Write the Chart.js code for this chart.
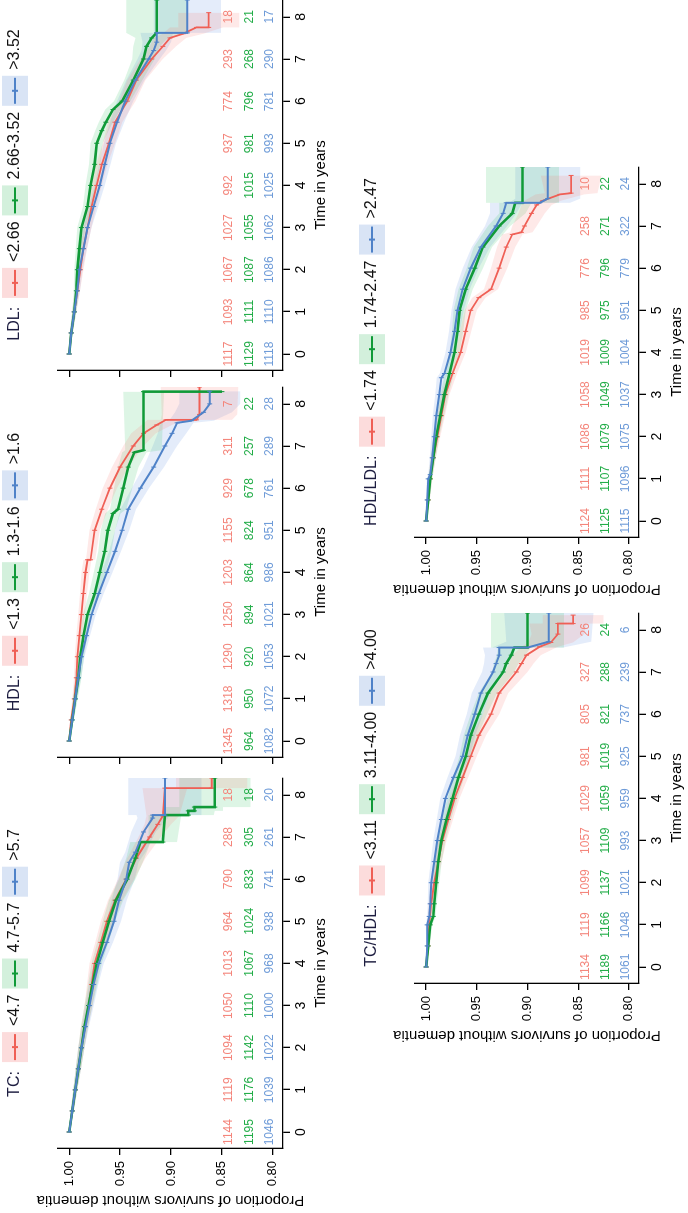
<!DOCTYPE html>
<html lang="en">
<head>
<meta charset="UTF-8">
<title>Dementia-free survival by lipid level</title>
<script src="https://cdn.jsdelivr.net/npm/chart.js"></script>
<style>
    html, body { margin: 0; padding: 0; background: #fff; overflow: hidden; }
    body { width: 688px; height: 1213px; position: relative; }
    /* the figure is laid out landscape and turned a quarter turn to the left */
    #fig {
        position: absolute; left: 0; top: 0;
        width: 1213px; height: 688px;
        transform-origin: 0 0;
        transform: translateY(1213px) rotate(-90deg);
        overflow: hidden;
    }
    #fig canvas { position: absolute; }
</style>
</head>
<body>
<div id="fig">
    <canvas id="cTC" width="440" height="333" style="left:0px;top:0px"></canvas>
    <canvas id="cHDL" width="440" height="333" style="left:391px;top:0px"></canvas>
    <canvas id="cLDL" width="440" height="333" style="left:778px;top:0px"></canvas>
    <canvas id="cTCHDL" width="440" height="332" style="left:165px;top:357px"></canvas>
    <canvas id="cHDLLDL" width="440" height="332" style="left:611px;top:357px"></canvas>
</div>
<script>
// ticks
const timeTicks = [0, 1, 2, 3, 4, 5, 6, 7, 8];
const propTicks = [0.80, 0.85, 0.90, 0.95, 1.00];

// legend groups
const tcGroups = ['<4.7', '4.7-5.7', '>5.7'];
const hdlGroups = ['<1.3', '1.3-1.6', '>1.6'];
const ldlGroups = ['<2.66', '2.66-3.52', '>3.52'];
const tchdlGroups = ['<3.11', '3.11-4.00', '>4.00'];
const hdlldlGroups = ['<1.74', '1.74-2.47', '>2.47'];

// numbers at risk at years 0..8 (rows: low, mid, high)
const tcRisk = [[1144, 1119, 1094, 1050, 1013, 964, 790, 288, 18],
                [1195, 1176, 1142, 1110, 1067, 1024, 833, 305, 18],
                [1046, 1039, 1022, 1000, 968, 938, 741, 261, 20]];
const hdlRisk = [[1345, 1318, 1290, 1250, 1203, 1155, 929, 311, 7],
                 [964, 950, 920, 894, 864, 824, 678, 257, 22],
                 [1082, 1072, 1053, 1021, 986, 951, 761, 289, 28]];
const ldlRisk = [[1117, 1093, 1067, 1027, 992, 937, 774, 293, 18],
                 [1129, 1111, 1087, 1055, 1015, 981, 796, 268, 21],
                 [1118, 1110, 1086, 1062, 1025, 993, 781, 290, 17]];
const tchdlRisk = [[1134, 1119, 1099, 1057, 1029, 981, 805, 327, 26],
                   [1189, 1166, 1137, 1109, 1059, 1019, 821, 288, 24],
                   [1061, 1048, 1021, 993, 959, 925, 737, 239, 6]];
const hdlldlRisk = [[1124, 1111, 1086, 1058, 1019, 985, 776, 258, 10],
                    [1125, 1107, 1079, 1049, 1009, 975, 796, 271, 22],
                    [1115, 1096, 1075, 1037, 1004, 951, 779, 322, 24]];

// Kaplan-Meier curves: [years, proportion, CI half width]
const tcLow = [[0,1,0],[0.5,0.997,0.0015],[1,0.994,0.002],[1.5,0.991,0.0025],[2,0.988,0.003],[2.5,0.985,0.0035],[3,0.981,0.004],[3.5,0.978,0.0045],[4,0.975,0.005],[4.5,0.969,0.0055],[5,0.963,0.006],[5.5,0.955,0.007],[6,0.944,0.008],[6.5,0.934,0.009],[7,0.921,0.011],[7.3,0.913,0.013],[7.5,0.908,0.016],[8.16,0.906,0.022],[8.16,0.860,0.035],[8.4,0.860,0.035]];
const tcMid = [[0,1,0],[0.5,0.997,0.0015],[1,0.994,0.002],[1.5,0.991,0.0025],[2,0.988,0.003],[2.5,0.985,0.0035],[3,0.981,0.004],[3.5,0.977,0.0045],[4,0.973,0.005],[4.5,0.967,0.0055],[5,0.961,0.006],[5.5,0.954,0.007],[6,0.943,0.008],[6.5,0.935,0.009],[6.88,0.930,0.01],[6.88,0.908,0.014],[7.52,0.906,0.016],[7.52,0.883,0.025],[7.62,0.883,0.026],[7.62,0.877,0.028],[7.71,0.877,0.028],[7.71,0.857,0.035],[8.4,0.857,0.035]];
const tcHigh = [[0,1,0],[0.5,0.997,0.0015],[1,0.994,0.002],[1.5,0.991,0.0025],[2,0.988,0.003],[2.5,0.984,0.0035],[3,0.980,0.004],[3.5,0.976,0.0045],[4,0.971,0.005],[4.5,0.963,0.006],[5,0.956,0.007],[5.5,0.951,0.0075],[6,0.944,0.0085],[6.4,0.941,0.009],[6.64,0.935,0.01],[7.12,0.927,0.012],[7.45,0.918,0.015],[7.52,0.918,0.016],[7.52,0.906,0.036],[8.4,0.906,0.036]];

const hdlLow = [[0,1,0],[0.5,0.998,0.0012],[1,0.995,0.002],[1.5,0.993,0.0022],[2,0.992,0.0025],[2.5,0.990,0.003],[3,0.988,0.0032],[3.5,0.986,0.0035],[4,0.984,0.004],[4.3,0.982,0.004],[4.3,0.979,0.0045],[5,0.975,0.005],[5.5,0.968,0.006],[6,0.960,0.007],[6.5,0.950,0.008],[7,0.937,0.01],[7.3,0.927,0.012],[7.5,0.914,0.015],[7.62,0.905,0.018],[7.62,0.875,0.035],[7.75,0.872,0.037],[8.4,0.872,0.038]];
const hdlMid = [[0,1,0],[0.5,0.997,0.0015],[1,0.994,0.0025],[1.5,0.991,0.003],[2,0.989,0.0035],[2.5,0.986,0.004],[3,0.982,0.0045],[3.5,0.975,0.0055],[4,0.970,0.006],[4.5,0.965,0.0065],[5,0.962,0.007],[5.4,0.957,0.0075],[5.5,0.952,0.008],[6,0.947,0.009],[6.5,0.942,0.01],[6.85,0.936,0.012],[6.9,0.927,0.018],[8.29,0.927,0.02],[8.29,0.850,0.04]];
const hdlHigh = [[0,1,0],[0.5,0.997,0.0015],[1,0.994,0.002],[1.5,0.991,0.0025],[2,0.988,0.003],[2.5,0.983,0.0035],[3,0.978,0.004],[3.5,0.971,0.005],[4,0.963,0.0055],[4.5,0.955,0.006],[5,0.948,0.007],[5.5,0.942,0.0075],[6,0.930,0.0085],[6.5,0.917,0.01],[7,0.906,0.012],[7.3,0.899,0.014],[7.55,0.894,0.016],[7.6,0.880,0.022],[7.8,0.868,0.028],[8,0.862,0.03],[8.3,0.862,0.03]];

const ldlLow = [[0,1,0],[0.5,0.998,0.0015],[1,0.995,0.002],[1.5,0.992,0.0025],[2,0.989,0.003],[2.5,0.986,0.0035],[3,0.982,0.004],[3.5,0.978,0.0045],[4,0.973,0.005],[4.5,0.968,0.0055],[5,0.961,0.006],[5.5,0.955,0.007],[6,0.943,0.008],[6.5,0.934,0.009],[7,0.919,0.011],[7.3,0.908,0.013],[7.5,0.901,0.016],[7.6,0.888,0.02],[7.75,0.875,0.026],[7.75,0.863,0.03],[8.1,0.863,0.03]];
const ldlMid = [[0,1,0],[0.5,0.998,0.0015],[1,0.995,0.002],[1.5,0.993,0.0025],[2,0.992,0.003],[2.5,0.990,0.0035],[3,0.988,0.004],[3.5,0.982,0.0045],[4,0.979,0.005],[4.5,0.975,0.0055],[5,0.973,0.006],[5.3,0.968,0.0065],[5.5,0.964,0.007],[5.8,0.957,0.0075],[6,0.948,0.008],[6.5,0.937,0.009],[7,0.927,0.011],[7.3,0.924,0.013],[7.5,0.919,0.016],[7.62,0.914,0.03],[8.4,0.914,0.03]];
const ldlHigh = [[0,1,0],[0.5,0.998,0.0015],[1,0.995,0.002],[1.5,0.992,0.0025],[2,0.990,0.003],[2.5,0.986,0.0035],[3,0.982,0.004],[3.5,0.976,0.0045],[4,0.970,0.005],[4.5,0.965,0.0055],[5,0.960,0.006],[5.5,0.953,0.007],[6,0.945,0.008],[6.5,0.935,0.009],[7,0.922,0.011],[7.2,0.917,0.012],[7.4,0.914,0.014],[7.62,0.914,0.016],[7.62,0.884,0.033],[8.4,0.884,0.033]];

const tchdlLow = [[0,1,0],[0.5,0.998,0.0015],[1,0.997,0.002],[1.5,0.995,0.0025],[2,0.992,0.003],[2.5,0.988,0.0035],[3,0.984,0.004],[3.5,0.978,0.0045],[4,0.972,0.005],[4.5,0.964,0.0055],[5,0.956,0.006],[5.5,0.948,0.007],[6,0.936,0.008],[6.5,0.928,0.009],[7,0.911,0.011],[7.2,0.906,0.012],[7.4,0.901,0.014],[7.6,0.888,0.018],[7.7,0.877,0.022],[7.9,0.870,0.026],[8.15,0.870,0.028],[8.15,0.855,0.03],[8.35,0.855,0.03]];
const tchdlMid = [[0,1,0],[0.5,0.998,0.0015],[1,0.996,0.002],[1.2,0.993,0.0022],[1.5,0.992,0.0025],[2,0.990,0.003],[2.5,0.988,0.0035],[3,0.985,0.004],[3.5,0.980,0.0045],[4,0.974,0.005],[4.5,0.968,0.0055],[5,0.961,0.006],[5.5,0.956,0.007],[6,0.948,0.008],[6.5,0.939,0.009],[7,0.924,0.011],[7.2,0.921,0.012],[7.4,0.916,0.014],[7.58,0.913,0.016],[7.58,0.900,0.036],[8.4,0.900,0.036]];
const tchdlHigh = [[0,1,0],[0.5,0.999,0.001],[1,0.999,0.0015],[1.2,0.997,0.002],[1.5,0.996,0.0025],[2,0.995,0.003],[2.5,0.992,0.0035],[3,0.989,0.004],[3.5,0.985,0.0045],[4,0.981,0.005],[4.5,0.973,0.006],[5,0.964,0.007],[5.5,0.959,0.0075],[6,0.952,0.008],[6.5,0.946,0.009],[7,0.934,0.011],[7.2,0.931,0.012],[7.4,0.928,0.014],[7.58,0.928,0.016],[7.58,0.900,0.035],[7.72,0.879,0.042],[8.4,0.879,0.044]];

const hdlldlLow = [[0,1,0],[0.5,0.998,0.0015],[1,0.996,0.002],[1.5,0.993,0.0025],[2,0.989,0.003],[2.5,0.985,0.0035],[3,0.981,0.004],[3.5,0.974,0.0045],[4,0.966,0.005],[4.5,0.961,0.0055],[5,0.956,0.006],[5.3,0.948,0.0065],[5.5,0.936,0.007],[6,0.928,0.008],[6.5,0.921,0.009],[6.8,0.915,0.01],[6.85,0.906,0.011],[7,0.903,0.012],[7.3,0.896,0.013],[7.5,0.891,0.015],[7.6,0.885,0.018],[7.75,0.868,0.024],[7.78,0.857,0.026],[8.2,0.857,0.03]];
const hdlldlMid = [[0,1,0],[0.5,0.998,0.0015],[1,0.996,0.002],[1.5,0.993,0.0025],[2,0.990,0.003],[2.5,0.986,0.0035],[3,0.982,0.004],[3.5,0.977,0.0045],[4,0.972,0.005],[4.5,0.969,0.0055],[5,0.967,0.006],[5.5,0.961,0.007],[6,0.952,0.008],[6.5,0.944,0.009],[7,0.928,0.011],[7.3,0.915,0.013],[7.55,0.912,0.016],[7.55,0.905,0.036],[8.4,0.905,0.036]];
const hdlldlHigh = [[0,1,0],[0.5,0.999,0.001],[1,0.998,0.0015],[1.1,0.996,0.002],[1.5,0.994,0.0025],[2,0.992,0.003],[2.5,0.990,0.0035],[3,0.987,0.004],[3.4,0.985,0.0045],[3.5,0.982,0.0045],[4,0.976,0.005],[4.5,0.972,0.0055],[5,0.969,0.006],[5.5,0.964,0.007],[6,0.956,0.008],[6.5,0.946,0.009],[7,0.931,0.011],[7.3,0.924,0.013],[7.55,0.921,0.016],[7.55,0.888,0.03],[7.65,0.880,0.032],[8.4,0.880,0.032]];

const FONT = "'Liberation Sans', Arial, sans-serif";
const lineColors = ['#ef5f55', '#109a38', '#4f82c8'];
const lineWidths = [1.8, 2.6, 2.0];
const bandColors = ['rgba(246,120,110,0.16)', 'rgba(30,185,80,0.15)', 'rgba(95,145,225,0.17)'];
const keyColors = ['#fcdcdc', '#d3f0dc', '#d9e4f5'];
const riskColors = ['#f4857b', '#22ad48', '#6e9bd8'];

// legend row drawn above each plot: "TC:  [key] <4.7  [key] 4.7-5.7 ..."
const kmLegend = {
    id: 'kmLegend',
    afterDraw(chart, args, opts) {
        const ctx = chart.ctx, area = chart.chartArea;
        const boxW = 30, boxH = 26, gap = 6, titleGap = 9;
        ctx.save();
        ctx.font = '16px ' + FONT;
        ctx.textBaseline = 'middle';
        let total = ctx.measureText(opts.title).width + titleGap;
        opts.labels.forEach((l, i) => {
            total += boxW + gap + ctx.measureText(l).width + (i < opts.labels.length - 1 ? gap : 0);
        });
        let x = (area.left + area.right) / 2 - total / 2;
        const cy = area.top - 43;
        ctx.fillStyle = '#1d1d40';
        ctx.fillText(opts.title, x, cy);
        x += ctx.measureText(opts.title).width + titleGap;
        opts.labels.forEach((l, i) => {
            ctx.fillStyle = keyColors[i];
            ctx.fillRect(x, cy - boxH / 2, boxW, boxH);
            ctx.strokeStyle = lineColors[i];
            ctx.lineWidth = 2;
            ctx.beginPath();
            ctx.moveTo(x + 2, cy); ctx.lineTo(x + boxW - 2, cy);
            ctx.moveTo(x + boxW / 2, cy - 3); ctx.lineTo(x + boxW / 2, cy + 3);
            ctx.stroke();
            x += boxW + gap;
            ctx.fillStyle = '#111';
            ctx.fillText(l, x, cy);
            x += ctx.measureText(l).width + gap;
        });
        ctx.restore();
    }
};

// numbers at risk printed inside the plot under the curves
const kmRisk = {
    id: 'kmRisk',
    afterDatasetsDraw(chart, args, opts) {
        const ctx = chart.ctx, xs = chart.scales.x, ys = chart.scales.y;
        const levels = [0.843, 0.823, 0.803];
        ctx.save();
        ctx.font = '12px ' + FONT;
        ctx.textAlign = 'center';
        ctx.textBaseline = 'middle';
        opts.rows.forEach((row, i) => {
            ctx.fillStyle = riskColors[i];
            row.forEach((n, k) => {
                ctx.fillText(String(n), xs.getPixelForValue(timeTicks[k]), ys.getPixelForValue(levels[i]));
            });
        });
        ctx.restore();
    }
};

function makePanel(id, title, groups, curves, risk, showY) {
    const datasets = [];
    curves.forEach((c, i) => {
        datasets.push({
            data: c.map(p => ({x: p[0], y: p[1] - p[2]})),
            borderWidth: 0, pointRadius: 0, fill: false, order: 10
        });
        datasets.push({
            data: c.map(p => ({x: p[0], y: p[1] + p[2]})),
            borderWidth: 0, pointRadius: 0, fill: '-1',
            backgroundColor: bandColors[i], order: 10
        });
    });
    curves.forEach((c, i) => {
        datasets.push({
            data: c.map(p => ({x: p[0], y: p[1]})),
            borderColor: lineColors[i],
            borderWidth: lineWidths[i],
            tension: 0,
            fill: false,
            pointStyle: 'line',
            rotation: 90,
            pointRadius: 2.5,
            pointBorderWidth: 1,
            pointBorderColor: lineColors[i],
            order: 3 - i
        });
    });

    new Chart(document.getElementById(id), {
        type: 'line',
        data: {datasets: datasets},
        plugins: [kmLegend, kmRisk],
        options: {
            responsive: false,
            animation: false,
            devicePixelRatio: 1,
            layout: {padding: {top: 58, right: 5, left: 0, bottom: 0}},
            plugins: {
                legend: {display: false},
                tooltip: {enabled: false},
                kmLegend: {title: title, labels: groups},
                kmRisk: {rows: risk}
            },
            scales: {
                x: {
                    type: 'linear',
                    min: -0.38,
                    max: 8.4,
                    afterBuildTicks: a => { a.ticks = timeTicks.map(v => ({value: v})); },
                    afterFit: s => { s.height = 50; },
                    grid: {drawOnChartArea: false, tickLength: 7, color: '#000', lineWidth: 1.3},
                    border: {color: '#000', width: 1.3},
                    ticks: {font: {family: FONT, size: 14}, color: '#000', padding: 3,
                            maxRotation: 0, autoSkip: false, callback: v => String(v)},
                    title: {display: true, text: 'Time in years', color: '#000',
                            font: {family: FONT, size: 15}, padding: {top: 0, bottom: 3}}
                },
                y: {
                    type: 'linear',
                    min: 0.79,
                    max: 1.011,
                    afterBuildTicks: a => { a.ticks = propTicks.map(v => ({value: v})); },
                    afterFit: s => { s.width = 65; },
                    grid: {drawOnChartArea: false, tickLength: 7, color: '#000', lineWidth: 1.3},
                    border: {color: '#000', width: 1.3},
                    ticks: {display: showY, font: {family: FONT, size: 13}, color: '#000', padding: 6,
                            callback: v => Number(v).toFixed(2)},
                    title: {display: showY, text: 'Proportion of survivors without dementia', color: '#000',
                            font: {family: FONT, size: 15}, padding: {top: 4, bottom: 0}}
                }
            }
        }
    });
}

makePanel('cTC', 'TC:', tcGroups, [tcLow, tcMid, tcHigh], tcRisk, true);
makePanel('cHDL', 'HDL:', hdlGroups, [hdlLow, hdlMid, hdlHigh], hdlRisk, false);
makePanel('cLDL', 'LDL:', ldlGroups, [ldlLow, ldlMid, ldlHigh], ldlRisk, false);
makePanel('cTCHDL', 'TC/HDL:', tchdlGroups, [tchdlLow, tchdlMid, tchdlHigh], tchdlRisk, true);
makePanel('cHDLLDL', 'HDL/LDL:', hdlldlGroups, [hdlldlLow, hdlldlMid, hdlldlHigh], hdlldlRisk, true);
</script>
</body>
</html>
